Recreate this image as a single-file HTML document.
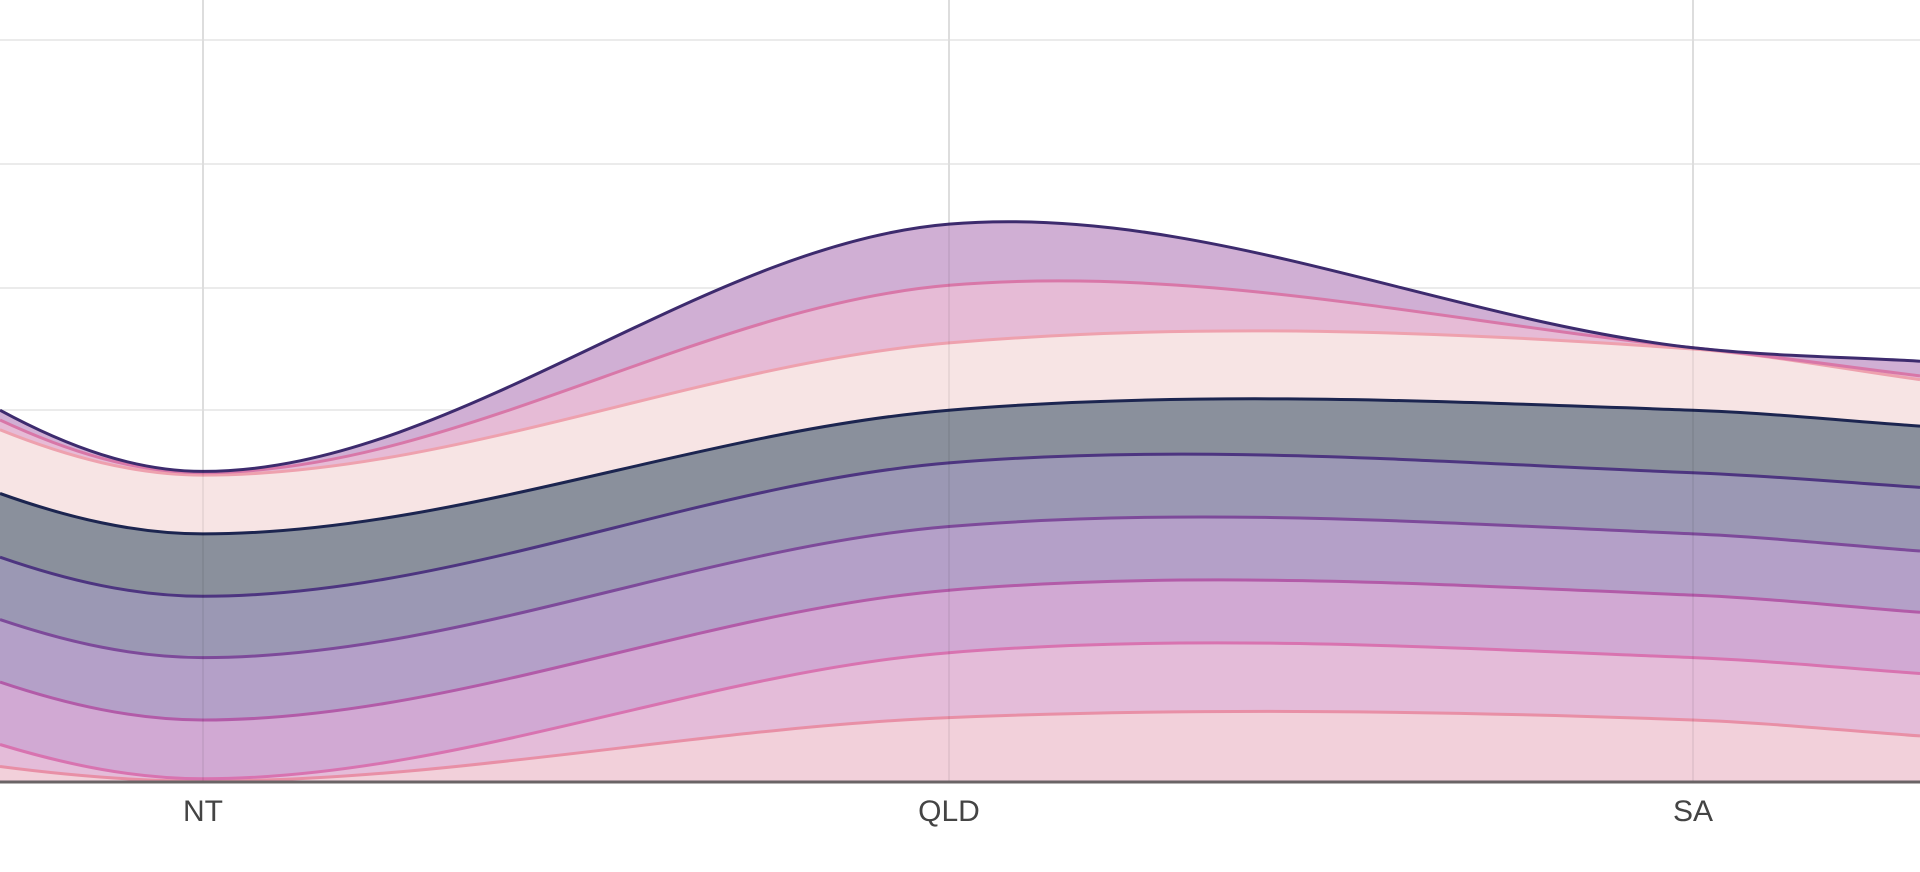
<!DOCTYPE html>
<html><head><meta charset="utf-8"><style>
html,body{margin:0;padding:0;background:#fff;width:1920px;height:872px;overflow:hidden}
svg{display:block}
</style></head><body>
<svg id="s" width="1920" height="872" xmlns="http://www.w3.org/2000/svg">
<g stroke="#ebebeb" stroke-width="2">
<line x1="0" y1="40" x2="1920" y2="40"/><line x1="0" y1="164" x2="1920" y2="164"/>
<line x1="0" y1="288" x2="1920" y2="288"/><line x1="0" y1="410" x2="1920" y2="410"/>
<line x1="0" y1="534" x2="1920" y2="534"/><line x1="0" y1="657" x2="1920" y2="657"/>
<line x1="203" y1="0" x2="203" y2="782"/><line x1="949" y1="0" x2="949" y2="782"/><line x1="1693" y1="0" x2="1693" y2="782"/>
</g>
<g id="layers"></g>
<g stroke="#000" stroke-opacity="0.06" stroke-width="2">
<line x1="203" y1="0" x2="203" y2="782"/><line x1="949" y1="0" x2="949" y2="782"/><line x1="1693" y1="0" x2="1693" y2="782"/>
</g>
<line x1="0" y1="782" x2="1920" y2="782" stroke="#6a6466" stroke-width="3"/>
<g font-family="Liberation Sans, sans-serif" font-size="30" fill="#444" text-anchor="middle">
<text x="203" y="821">NT</text><text x="949" y="821">QLD</text><text x="1693" y="821">SA</text>
</g>
</svg>
<script>
(function(){
var s=1.2245;
var X=[0,203,949,1693,1920];
var B=[
[638,638,638,638,638],
[626,638,586,588,601],
[608,636,533,537,550],
[557,588,482,486,500],
[506,537,430,436,450],
[455,487,378,386,398],
[403,436,335,335,348],
[351,388,280,285,310],
[343,386,233,284,307],
[335,385,183,284,295]];
var fills=["#f2d0da","#e4bcd9","#d1a9d3","#b4a0c8","#9b98b4","#8a909c","#f7e4e4","#e6bbd6","#d0afd4"];
var lines=["#e88fa6","#d873b0","#b25ba8","#7d4a9a","#4d3580","#1c2550","#eea1ae","#d877a8","#3d2b6e"];
function pts(b){
 var y=b.map(function(v){return v*s;});
 var e=(y[4]-y[3])/227;
 var m=[2*(y[1]-y[0])/203*0.9,0,(y[3]-y[1])/(1693-203),((y[3]-y[2])/744+e)/2,e];
 return X.map(function(x,i){return [x,y[i],m[i]];});
}
function seg(p,rev){
 var d="";
 if(!rev){
  for(var i=0;i<p.length-1;i++){
   var a=p[i],b=p[i+1],dx=(b[0]-a[0])/3;
   d+=" C"+(a[0]+dx).toFixed(1)+","+(a[1]+a[2]*dx).toFixed(1)+" "+(b[0]-dx).toFixed(1)+","+(b[1]-b[2]*dx).toFixed(1)+" "+b[0].toFixed(1)+","+b[1].toFixed(1);
  }
 } else {
  for(var i=p.length-1;i>0;i--){
   var a=p[i],b=p[i-1],dx=(a[0]-b[0])/3;
   d+=" C"+(a[0]-dx).toFixed(1)+","+(a[1]-a[2]*dx).toFixed(1)+" "+(b[0]+dx).toFixed(1)+","+(b[1]+b[2]*dx).toFixed(1)+" "+b[0].toFixed(1)+","+b[1].toFixed(1);
  }
 }
 return d;
}
var NS="http://www.w3.org/2000/svg";
var g=document.getElementById("layers");
function add(d,fill,stroke){
 var e=document.createElementNS(NS,"path");
 e.setAttribute("d",d);
 e.setAttribute("fill",fill);
 if(stroke){e.setAttribute("stroke",stroke);e.setAttribute("stroke-width","3");}
 g.appendChild(e);
}
for(var k=1;k<B.length;k++){
 var up=pts(B[k]),dn=pts(B[k-1]);
 add("M"+up[0][0]+","+up[0][1]+seg(up,false)+" L"+dn[4][0]+","+dn[4][1]+seg(dn,true)+"Z",fills[k-1],null);
}
for(var k=1;k<B.length;k++){
 var up=pts(B[k]);
 add("M"+up[0][0]+","+up[0][1]+seg(up,false),"none",lines[k-1]);
}
})();
</script>
</body></html>
